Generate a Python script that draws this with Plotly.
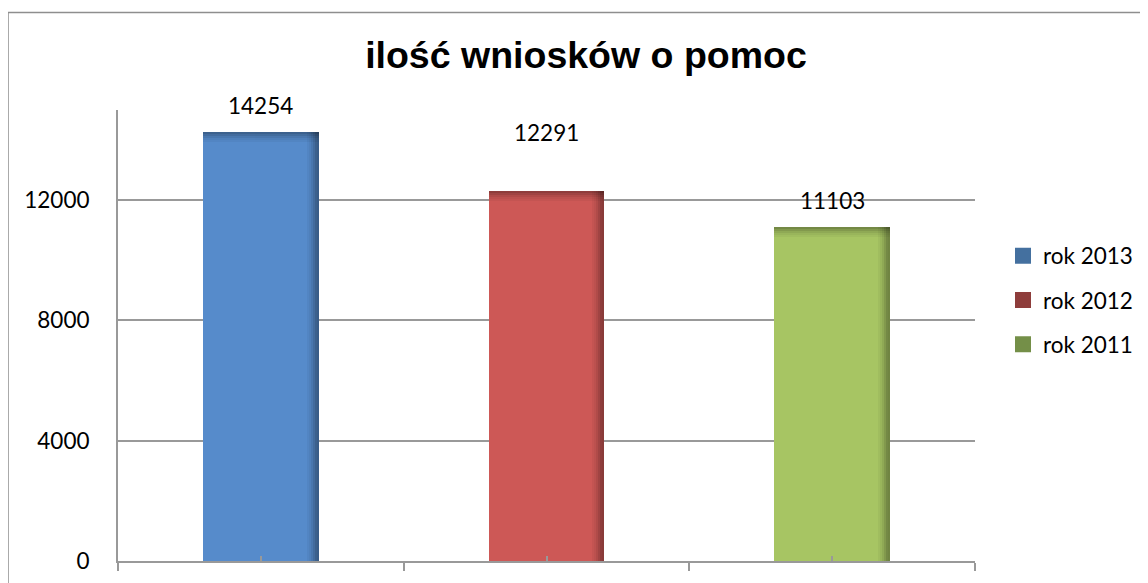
import plotly.graph_objects as go

# ---- data ----
categories = ["rok 2013", "rok 2012", "rok 2011"]
values = [14254, 12291, 11103]
y_ticks = [0, 4000, 8000, 12000]
title_text = "ilość wniosków o pomoc"

# ---- styles ----
bar_colors = ["#568BCB", "#CD5856", "#A7C563"]
legend_colors = ["#44709F", "#8E3D3B", "#748F48"]
label_shift_px = [27, 59, 27]

OFF = 8                     # browser default body margin
W, H = 1148 - OFF, 583 - OFF
L, T = 118 - OFF, 110 - OFF
plot_w, plot_h = 857, 451
R = W - L - plot_w
B = H - T - plot_h
y_max = 15000
bar_w = 0.406
x_pos = list(range(len(categories)))
ux = len(categories) / plot_w     # x units per pixel
uy = y_max / plot_h               # y units per pixel


def px_x(p):   # page pixel x -> paper x
    return (p - OFF - L) / plot_w


def px_y(p):   # page pixel y -> paper y
    return (T + plot_h - (p - OFF)) / plot_h


fig = go.Figure()

# main bars
fig.add_trace(go.Bar(x=x_pos, y=values, width=bar_w,
                     marker=dict(color=bar_colors, line=dict(width=0)),
                     showlegend=False, hoverinfo="skip"))

# right-edge inner shading
right_op = [0.04, 0.08, 0.14, 0.22, 0.30, 0.33]
sw = 2 * ux
for i, op in enumerate(right_op):
    fig.add_trace(go.Bar(x=[x + bar_w / 2 - (len(right_op) - i - 0.5) * sw for x in x_pos],
                         y=values, width=sw,
                         marker=dict(color="black", line=dict(width=0)), opacity=op,
                         showlegend=False, hoverinfo="skip"))
# top-edge inner shading
top_op = [0.30, 0.22, 0.14, 0.08, 0.04]
sh = 2 * uy
for j, op in enumerate(top_op):
    fig.add_trace(go.Bar(x=x_pos, y=[sh] * len(values),
                         base=[v - (j + 1) * sh for v in values], width=bar_w,
                         marker=dict(color="black", line=dict(width=0)), opacity=op,
                         showlegend=False, hoverinfo="skip"))

# legend entries
for c, col in zip(categories, legend_colors):
    fig.add_trace(go.Scatter(x=[None], y=[None], mode="markers", name=c,
                             legendgroup=c,
                             marker=dict(symbol="square", size=16, color=col)))

# data labels
for x, v, s in zip(x_pos, values, label_shift_px):
    fig.add_annotation(x=x, y=v, text=str(v), showarrow=False,
                       yshift=s, yanchor="middle", xanchor="center",
                       font=dict(family="Lato", size=22.5, color="black"))

# chart frame
fig.add_shape(type="rect", xref="paper", yref="paper",
              x0=px_x(8), x1=px_x(1170),
              y0=-0.2, y1=px_y(12.5),
              line=dict(color="#8E8E8E", width=1.5), layer="below")

fig.update_layout(
    width=W, height=H,
    margin=dict(l=L, r=R, t=T, b=B, autoexpand=False),
    paper_bgcolor="white", plot_bgcolor="white",
    barmode="overlay", bargap=0,
    title=dict(text="<b>" + title_text + "</b>", xref="container", yref="container",
               x=(586 - OFF) / W, y=1 - (55 - OFF) / H, xanchor="center", yanchor="middle",
               font=dict(family="Liberation Sans, Arial", size=37.5, color="black")),
    font=dict(family="Lato", size=22.5, color="black"),
    legend=dict(x=px_x(1003), y=px_y(300),
                xanchor="left", yanchor="middle",
                font=dict(family="Lato", size=22.5, color="black"),
                tracegroupgap=12, traceorder="grouped", bgcolor="rgba(0,0,0,0)"),
    showlegend=True,
)

fig.update_xaxes(range=[-0.5, len(categories) - 0.5],
                 tickmode="array",
                 tickvals=[i - 0.5 for i in range(len(categories) + 1)],
                 showticklabels=False, ticks="outside", ticklen=8, tickwidth=2,
                 tickcolor="#999999",
                 showline=True, linecolor="#999999", linewidth=2,
                 showgrid=False, zeroline=False, fixedrange=True,
                 minor=dict(tickmode="array", tickvals=x_pos, ticks="inside",
                            ticklen=5, tickwidth=2, tickcolor="#999999", showgrid=False))

fig.update_yaxes(range=[0, y_max], tickmode="array", tickvals=y_ticks,
                 ticktext=[str(t) for t in y_ticks],
                 showline=True, linecolor="#999999", linewidth=2,
                 showgrid=True, gridcolor="#999999", gridwidth=2,
                 zeroline=False, ticks="", ticklabelstandoff=22,
                 tickfont=dict(family="Lato", size=22.5, color="black"),
                 fixedrange=True)

fig.write_html("out.html")
